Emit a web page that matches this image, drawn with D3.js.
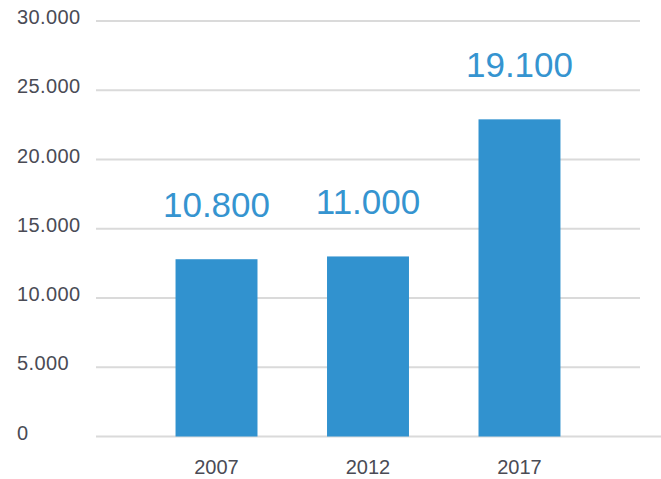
<!DOCTYPE html>
<html>
<head>
<meta charset="utf-8">
<script src="https://cdn.jsdelivr.net/npm/d3@7"></script>
<style>
  html, body { margin: 0; padding: 0; background: #ffffff; }
  svg { display: block; font-family: "Liberation Sans", Arial, Helvetica, sans-serif; }
</style>
</head>
<body>
<svg id="chart" width="661" height="479"></svg>
<script>
// ---- data ----
const years = ["2007", "2012", "2017"];
const barValues = [12800, 13000, 22900];      // bar heights as drawn
const labelValues = [10800, 11000, 19100];    // value labels shown above bars
const yTicks = [0, 5000, 10000, 15000, 20000, 25000, 30000];

// ---- setup ----
const W = 661, H = 479;
const svg = d3.select("#chart");
const locale = d3.formatLocale({ decimal: ",", thousands: ".", grouping: [3], currency: ["", ""] });
const fmt = locale.format(",d");

const y = d3.scaleLinear().domain([0, 30000]).range([436.5, 21]);
const x = d3.scaleBand().domain(years).range([96, 640]).paddingInner(0.459).paddingOuter(0.525);

// gridlines
svg.append("g").selectAll("line")
  .data(yTicks)
  .join("line")
  .attr("x1", 96)
  .attr("x2", d => d === 0 ? W : 640)
  .attr("y1", d => y(d))
  .attr("y2", d => y(d))
  .attr("stroke", "#dadada")
  .attr("stroke-width", 1.8);

// y tick labels
svg.append("g").selectAll("text")
  .data(yTicks)
  .join("text")
  .attr("x", 17)
  .attr("y", d => y(d) + 3)
  .attr("text-anchor", "start")
  .attr("font-size", 20)
  .attr("letter-spacing", 0.4)
  .attr("fill", "#4a4b55")
  .text(d => fmt(d));

// bars
svg.append("g").selectAll("rect")
  .data(years)
  .join("rect")
  .attr("x", d => x(d))
  .attr("width", x.bandwidth())
  .attr("y", (d, i) => y(barValues[i]))
  .attr("height", (d, i) => y(0) - y(barValues[i]))
  .attr("fill", "#3192cf");

// value labels
svg.append("g").selectAll("text")
  .data(years)
  .join("text")
  .attr("x", d => x(d) + x.bandwidth() / 2)
  .attr("y", (d, i) => y(barValues[i]) - 42)
  .attr("text-anchor", "middle")
  .attr("font-size", 35)
  .attr("fill", "#3594d0")
  .text((d, i) => fmt(labelValues[i]));

// x axis labels
svg.append("g").selectAll("text")
  .data(years)
  .join("text")
  .attr("x", d => x(d) + x.bandwidth() / 2)
  .attr("y", 474)
  .attr("text-anchor", "middle")
  .attr("font-size", 20)
  .attr("fill", "#4a4b55")
  .text(d => d);
</script>
</body>
</html>
